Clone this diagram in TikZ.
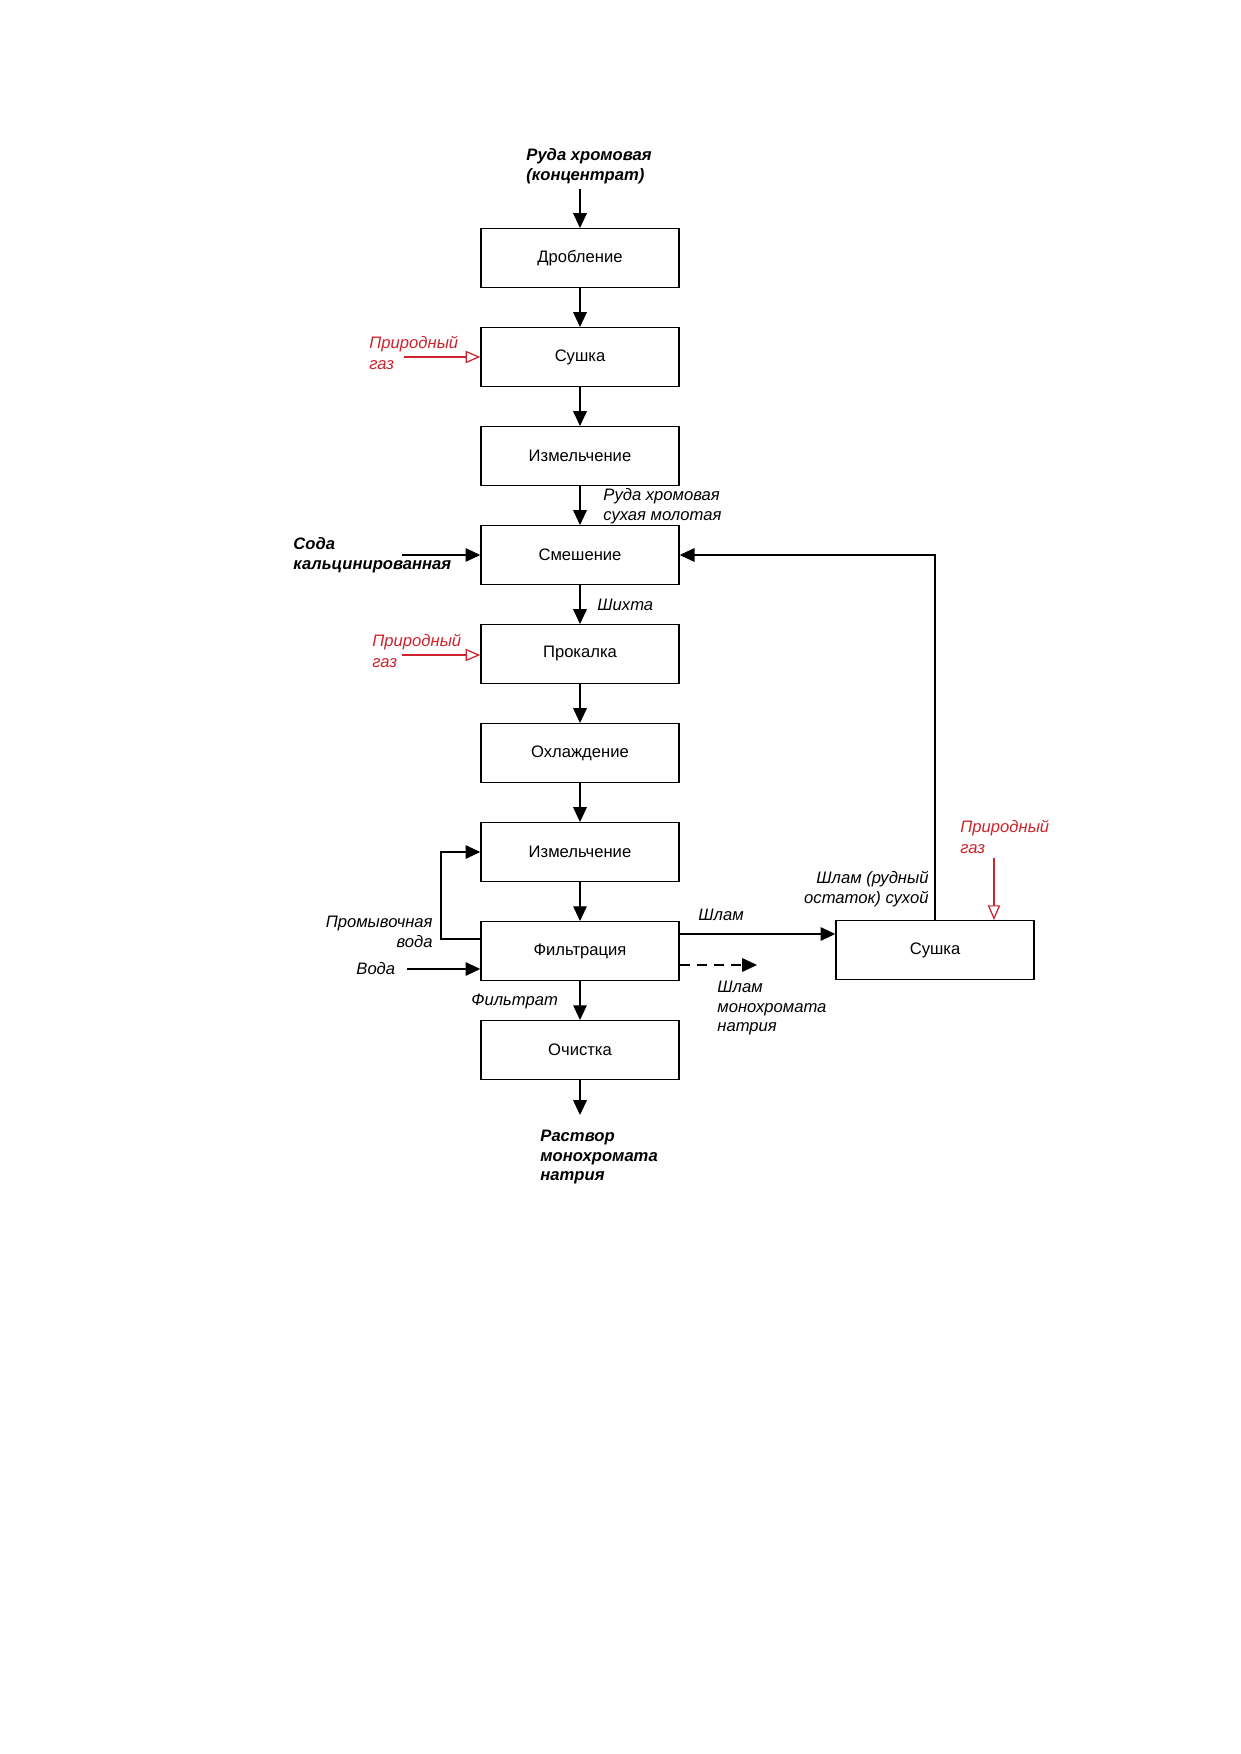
\documentclass[tikz,border=0pt]{standalone}
\usepackage{fontspec}
\setmainfont{Liberation Sans}
\usepackage{xcolor}
\usetikzlibrary{arrows.meta}

\definecolor{gasred}{RGB}{205,35,45}

\tikzset{
  stage/.style={draw=black, line width=0.7pt, minimum width=33.5mm, minimum height=9.9mm, inner sep=0pt, font=\fontsize{8}{9.6}\selectfont},
  flow/.style={black, line width=0.6pt, -{Triangle[length=2.5mm,width=2.3mm]}},
  gas/.style={gasred, line width=0.6pt, -{Triangle[open,length=2.5mm,width=2.1mm]}},
  lbl/.style={inner sep=0pt, align=left, font=\fontsize{8}{9.6}\selectfont\itshape},
  lblb/.style={lbl, font=\fontsize{8}{9.6}\selectfont\bfseries\itshape},
  gaslbl/.style={lbl, text=gasred, font=\fontsize{8}{10.2}\selectfont\itshape}
}

\begin{document}
\begin{tikzpicture}[x=0.1692mm, y=-0.1692mm]
        \useasboundingbox (0,0) rectangle (1241,1754);

        % main line
        \node [stage] (drob) at (580,258) {Дробление};
        \node [stage] (sush) at (580,357) {Сушка};
        \node [stage] (izm) at (580,456) {Измельчение};
        \node [stage] (smesh) at (580,555) {Смешение};
        \node [stage] (prok) at (580,654) {Прокалка};
        \node [stage] (ohl) at (580,753) {Охлаждение};
        \node [stage] (izm2) at (580,852) {Измельчение};
        \node [stage] (filtr) at (580,951) {Фильтрация};
        \node [stage] (ochist) at (580,1050) {Очистка};
        \node [stage] (sush2) at (935,950) {Сушка};

        % labels
        \node [lblb, anchor=west] (ruda) at (526,166) {Руда хромовая\\(концентрат)};
        \node [gaslbl, anchor=west] (gas1) at (369,353) {Природный\\газ};
        \node [lbl, anchor=west] (rudasuh) at (603,506) {Руда хромовая\\сухая молотая};
        \node [lblb, anchor=west] (soda) at (293,555) {Сода\\кальцинированная};
        \node [lbl, anchor=west] (shihta) at (597,605) {Шихта};
        \node [gaslbl, anchor=west] (gas2) at (372,651) {Природный\\газ};
        \node [gaslbl, anchor=west] (gas3) at (960,837) {Природный\\газ};
        \node [lbl, anchor=east, align=right] (shlamsuh) at (929,889) {Шлам (рудный\\остаток) сухой};
        \node [lbl, anchor=west] (shlam) at (698,915) {Шлам};
        \node [lbl, anchor=east, align=right] (promvoda) at (433,932) {Промывочная\\вода};
        \node [lbl, anchor=west] (voda) at (356,969) {Вода};
        \node [lbl, anchor=west] (filtrat) at (471,1001) {Фильтрат};
        \node [lbl, anchor=west] (shlammono) at (717,1008) {Шлам\\монохромата\\натрия};
        \node [lblb, anchor=west] (rastvor) at (540,1157) {Раствор\\монохромата\\натрия};

        % free ends
        \coordinate (gas1s) at (404,357);
        \coordinate (sodas) at (402,555);
        \coordinate (gas2s) at (402,655);
        \coordinate (gas3s) at (994,858);
        \coordinate (vodas) at (407,969);
        \coordinate (promx) at (441,852);
        \coordinate (dashe) at (757,965);
        \coordinate (oute) at (581,1115);

        \draw [flow] (drob.north |- 0,189) -- (drob.north);
        \draw [flow] (drob) -- (sush);
        \draw [flow] (sush) -- (izm);
        \draw [flow] (izm) -- (smesh);
        \draw [flow] (smesh) -- (prok);
        \draw [flow] (prok) -- (ohl);
        \draw [flow] (ohl) -- (izm2);
        \draw [flow] (izm2) -- (filtr);
        \draw [flow] (filtr) -- (ochist);
        \draw [flow] (ochist) -- (ochist.south |- oute);

        \draw [gas] (gas1s) -- (sush.west |- gas1s);
        \draw [gas] (gas2s) -- (prok.west |- gas2s);
        \draw [gas] (gas3s) -- (gas3s |- sush2.north);

        \draw [flow] (sodas) -- (smesh.west);
        \draw [flow] (sush2.north) |- (smesh.east);
        \draw [flow] (filtr.east |- 0,934) -- (sush2.west |- 0,934);
        \draw [flow, dash pattern=on 1.7mm off 1.2mm] (filtr.east |- dashe) -- (dashe);
        \draw [flow] (filtr.west |- 0,939) -| (promx) -- (izm2.west);
        \draw [flow] (vodas) -- (filtr.west |- vodas);

    \end{tikzpicture}
\end{document}
